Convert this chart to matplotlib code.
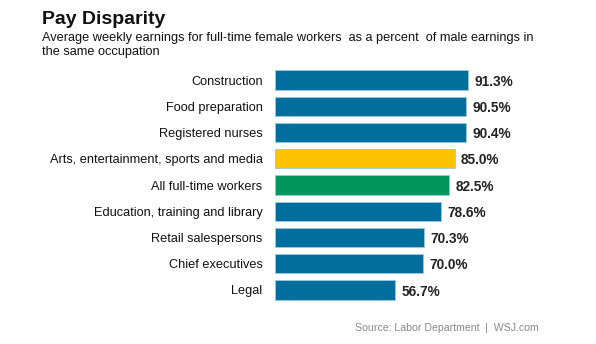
import matplotlib
matplotlib.use("Agg")
from matplotlib import pyplot as plt

plt.rcParams["font.family"] = ["Liberation Sans", "DejaVu Sans"]

# ====================================================
# Data
# ====================================================
categories = [
    "Construction",
    "Food preparation",
    "Registered nurses",
    "Arts, entertainment, sports and media",
    "All full-time workers",
    "Education, training and library",
    "Retail salespersons",
    "Chief executives",
    "Legal",
]
values = [91.3, 90.5, 90.4, 85.0, 82.5, 78.6, 70.3, 70.0, 56.7]
bar_colors = ["#006f9e", "#006f9e", "#006f9e", "#fdc300", "#00965e",
              "#006f9e", "#006f9e", "#006f9e", "#006f9e"]

# ====================================================
# Figure
# ====================================================
W, H = 596, 344
fig = plt.figure(figsize=(W / 100, H / 100), dpi=100)

x0 = 275
px_per_unit = (468 - 275) / 91.3
ax_w = W - x0
y_top, y_bot = 80 - 13.1, 290 + 13.1
ax = fig.add_axes([x0 / W, 1 - y_bot / H, ax_w / W, (y_bot - y_top) / H])

pos = list(range(len(categories)))
ax.barh(pos, values, height=0.73, color=bar_colors,
        edgecolor="#9cc9dd", linewidth=0.6)
ax.set_xlim(0, ax_w / px_per_unit)
ax.set_ylim(len(categories) - 0.5, -0.5)

for y, v in zip(pos, values):
    ax.text(v + 3, y + 0.06, f"{v:.1f}%", va="center", ha="left",
            fontsize=9.8, fontweight="bold", color="#222222")

ax.set_yticks(pos)
ax.set_yticklabels(categories, fontsize=9.2, color="#111111")
ax.tick_params(axis="y", length=0, pad=9)
ax.set_xticks([])
for s in ax.spines.values():
    s.set_visible(False)

fig.text(42 / W, 1 - 20 / H, "Pay Disparity", fontsize=14, fontweight="bold",
         va="center", ha="left", color="#111111")
fig.text(42 / W, 1 - 45 / H,
         "Average weekly earnings for full-time female workers  as a percent  of male earnings in\nthe same occupation",
         fontsize=9.15, va="center", ha="left", color="#111111", linespacing=1.25)
fig.text(539 / W, 1 - 328 / H, "Source: Labor Department  |  WSJ.com",
         fontsize=7.6, ha="right", va="center", color="#8a8a8a")

fig.savefig("out.png", dpi=100)
